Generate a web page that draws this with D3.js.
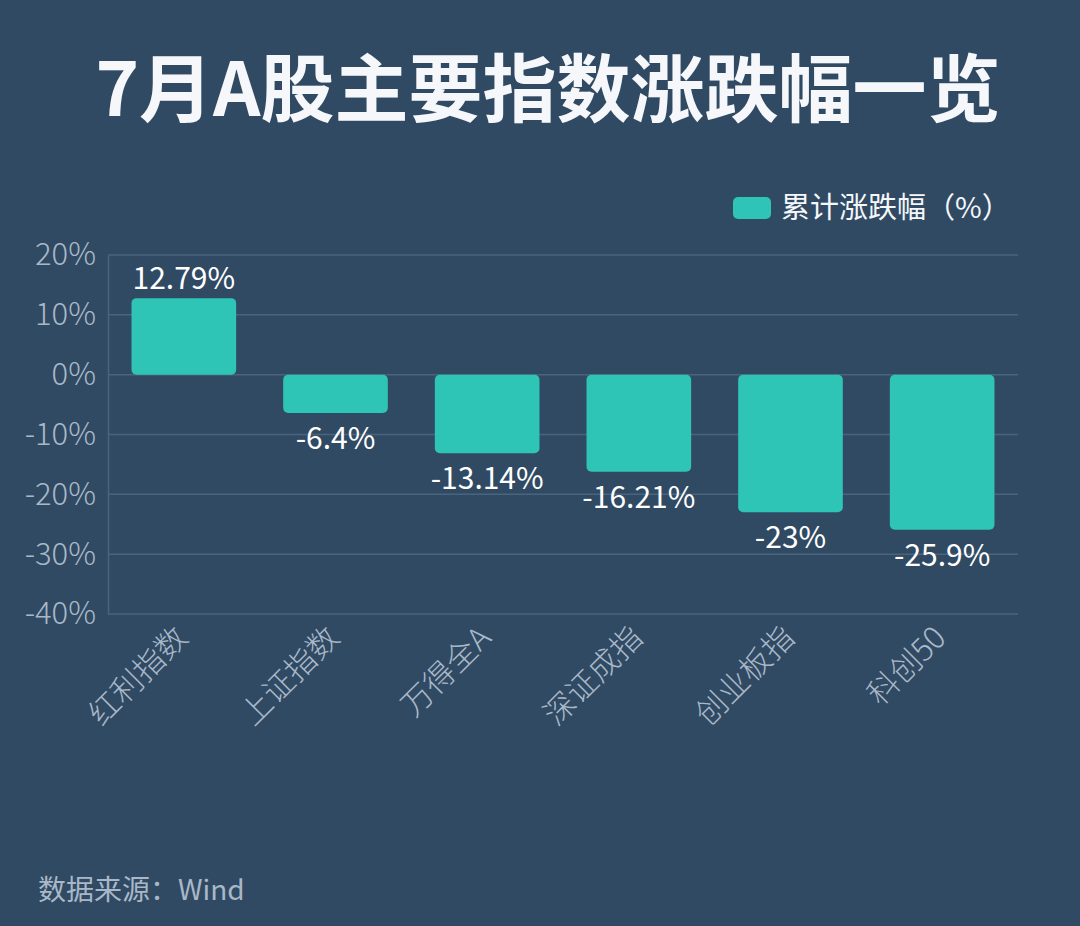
<!DOCTYPE html>
<html>
<head>
<meta charset="utf-8">
<script src="https://cdn.jsdelivr.net/npm/d3@7/dist/d3.min.js"></script>
<style>
  html, body { margin: 0; padding: 0; background: #304a63; }
  svg { display: block; font-family: "Noto Sans CJK SC", "Noto Sans", sans-serif; }
</style>
</head>
<body>
<svg id="chart"></svg>
<script>
// chart data
const categories = ["红利指数", "上证指数", "万得全A", "深证成指", "创业板指", "科创50"];
const changes = [12.79, -6.4, -13.14, -16.21, -23, -25.9];
const yTicks = [20, 10, 0, -10, -20, -30, -40];
const seriesName = "累计涨跌幅（%）";

const width = 1080;
const height = 926;
const margin = { top: 255, right: 62, bottom: 312, left: 108 };

const bg = "#304a63";
const barColor = "#2ec4b6";
const gridColor = "#4a647d";
const tickColor = "#a9b8c8";

const svg = d3.select("#chart")
    .attr("width", width)
    .attr("height", height);

svg.append("rect")
    .attr("width", width)
    .attr("height", height)
    .attr("fill", bg);

// title
svg.append("text")
    .attr("x", 548)
    .attr("y", 116)
    .attr("text-anchor", "middle")
    .attr("font-size", 74)
    .attr("font-weight", 700)
    .attr("fill", "#f5f7fa")
    .text("7月A股主要指数涨跌幅一览");

// scales
const x = d3.scaleBand()
    .domain(categories)
    .range([margin.left, width - margin.right])
    .paddingInner(0.31)
    .paddingOuter(0.155);

const y = d3.scaleLinear()
    .domain([-40, 20])
    .range([height - margin.bottom, margin.top]);

// grid lines
svg.append("g")
    .selectAll("line")
    .data(yTicks)
    .enter()
    .append("line")
    .attr("x1", margin.left)
    .attr("x2", width - margin.right)
    .attr("y1", d => y(d))
    .attr("y2", d => y(d))
    .attr("stroke", gridColor)
    .attr("stroke-width", 1.5);

// y axis
const yAxis = svg.append("g")
    .attr("transform", `translate(${margin.left},0)`)
    .call(d3.axisLeft(y).tickValues(yTicks).tickSize(0).tickPadding(12).tickFormat(d => d + "%"));
yAxis.select(".domain").attr("stroke", gridColor).attr("stroke-width", 1.5);
yAxis.selectAll("text")
    .attr("fill", tickColor)
    .attr("font-size", 31)
    .attr("font-weight", 300)
    .attr("font-family", "Noto Sans CJK SC, Noto Sans, sans-serif");

// x axis labels
const xAxis = svg.append("g")
    .attr("transform", `translate(0,${height - margin.bottom})`)
    .call(d3.axisBottom(x).tickSize(0).tickPadding(0));
xAxis.select(".domain").remove();
xAxis.selectAll("text")
    .attr("fill", tickColor)
    .attr("font-size", 31)
    .attr("font-weight", 300)
    .attr("font-family", "Noto Sans CJK SC, Noto Sans, sans-serif")
    .attr("text-anchor", "end")
    .attr("dy", "0.35em")
    .attr("transform", "translate(-2,18) rotate(-45)");

// bars
svg.append("g")
    .selectAll("rect")
    .data(changes)
    .enter()
    .append("rect")
    .attr("x", (d, i) => x(categories[i]))
    .attr("y", d => y(Math.max(0, d)))
    .attr("width", x.bandwidth())
    .attr("height", d => Math.abs(y(d) - y(0)))
    .attr("rx", 5)
    .attr("fill", barColor);

// value labels
svg.append("g")
    .selectAll("text")
    .data(changes)
    .enter()
    .append("text")
    .attr("x", (d, i) => x(categories[i]) + x.bandwidth() / 2)
    .attr("y", d => d >= 0 ? y(d) - 9 : y(d) + 36)
    .attr("text-anchor", "middle")
    .attr("font-size", 30)
    .attr("fill", "#ffffff")
    .text(d => d + "%");

// legend
const legend = svg.append("g").attr("transform", "translate(733,197)");
legend.append("rect")
    .attr("width", 38)
    .attr("height", 22)
    .attr("rx", 5)
    .attr("fill", barColor);
legend.append("text")
    .attr("x", 48)
    .attr("y", 11)
    .attr("dy", "0.35em")
    .attr("font-size", 29)
    .attr("fill", "#f5f7fa")
    .text(seriesName);

// source
svg.append("text")
    .attr("x", 38)
    .attr("y", 900)
    .attr("font-size", 28)
    .attr("fill", tickColor)
    .text("数据来源：Wind");
</script>
</body>
</html>
